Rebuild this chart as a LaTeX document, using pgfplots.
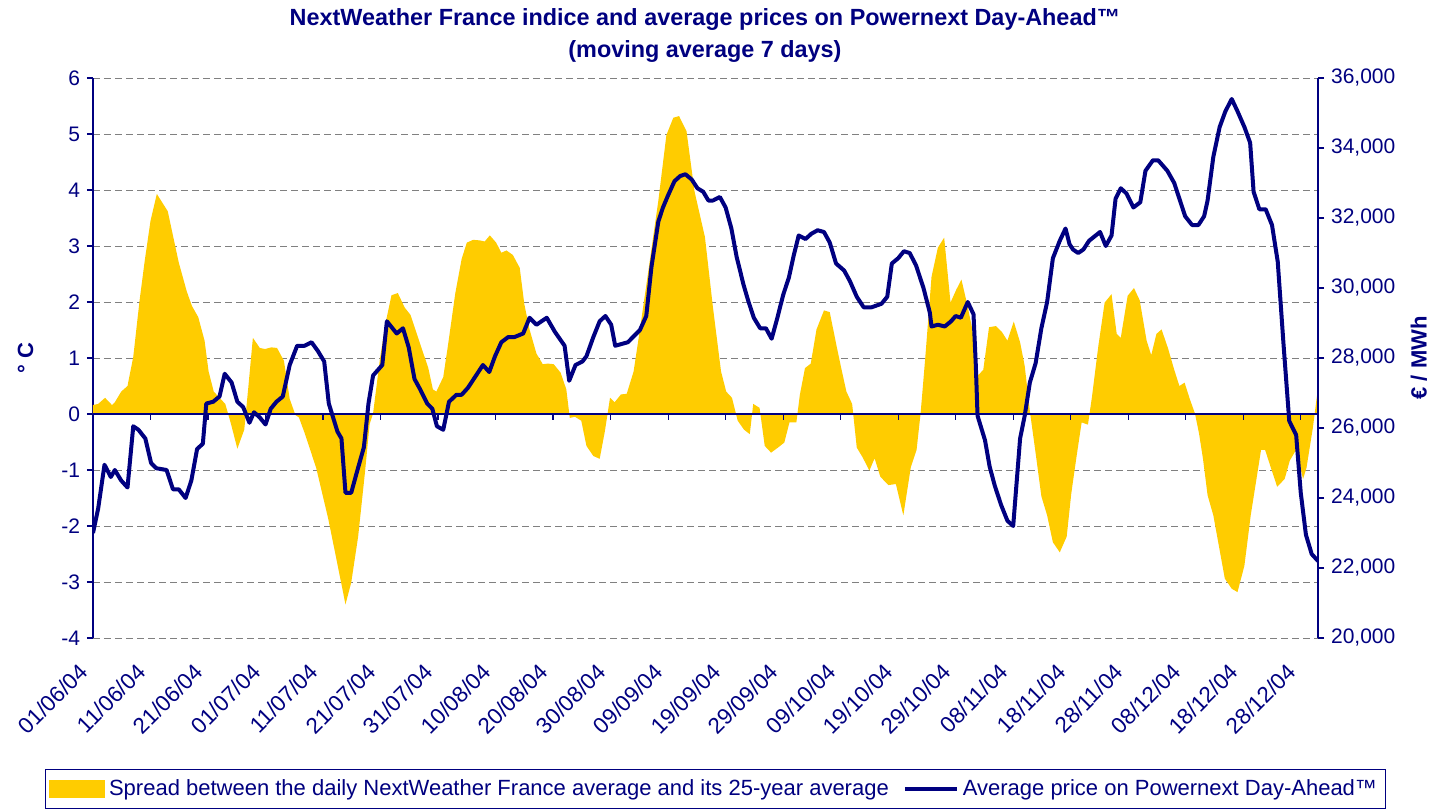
\documentclass[border=0pt]{standalone}
\usepackage{fontspec}
\setmainfont{Liberation Sans}
\usepackage{pgfplots}
\pgfplotsset{compat=1.18}

\definecolor{navyc}{RGB}{0,0,128}
\definecolor{goldc}{RGB}{255,204,0}
\definecolor{gridc}{RGB}{128,128,128}

\pgfplotsset{
  common/.style={
    width=612.5pt, height=280pt, scale only axis,
    xmin=0, xmax=213,
    /pgf/number format/assume math mode=true,
    tick align=outside, major tick length=3pt,
    every tick/.style={navyc, line width=0.6pt},
    ticklabel style={font=\fontsize{10.5}{12}\selectfont, text=navyc},
  },
}

\begin{document}
\begin{tikzpicture}

% left axis: temperature spread
\begin{axis}[common,
    at={(0,0)}, anchor=south west,
    ymin=-4, ymax=6, ytick={-4,-3,...,6},
    axis x line*=bottom, axis y line*=left,
    x axis line style={draw=none},
    y axis line style={navyc, line width=0.65pt},
    xtick={0,10,...,210},
    xtick style={draw=none},
    xticklabels={01/06/04,11/06/04,21/06/04,01/07/04,11/07/04,21/07/04,
      31/07/04,10/08/04,20/08/04,30/08/04,09/09/04,19/09/04,29/09/04,
      09/10/04,19/10/04,29/10/04,08/11/04,18/11/04,28/11/04,08/12/04,
      18/12/04,28/12/04},
    xticklabel style={xshift=-7.5pt, yshift=-4.2pt, rotate=45, anchor=north east,
      font=\fontsize{11.2}{13}\selectfont},
    ymajorgrids, grid style={gridc, dash pattern=on 3.5pt off 2pt, line width=0.5pt},
    ylabel={° C}, ylabel style={font=\bfseries\fontsize{11}{13}\selectfont, text=navyc,
      at={(axis description cs:-0.055,0.5)}, anchor=center, rotate=0},
  ]
  \addplot[fill=goldc, draw=none] table[x=d, y=v] {
d v
0 0.16
0.9 0.18
2.1 0.29
3.3 0.16
3.8 0.21
4.9 0.40
6 0.50
7 1.02
8.1 2.03
9 2.74
10 3.45
11.1 3.93
13 3.62
14.9 2.71
16.3 2.19
17.2 1.93
18.3 1.73
19.4 1.31
20.1 0.76
21 0.40
22 0.29
23 0.18
24 -0.18
25.1 -0.62
26.3 -0.28
27 0.47
27.8 1.36
29 1.18
29.9 1.16
31 1.19
32 1.18
33.2 0.95
34.2 0.27
35.2 -0.02
35.8 -0.06
36.8 -0.34
38.8 -0.96
40.9 -1.87
42.3 -2.58
43.2 -3.04
43.9 -3.40
44.9 -3.01
46.1 -2.19
47.3 -1.03
48.1 -0.18
48.7 0.01
49.9 0.99
50.9 1.64
51.9 2.12
53 2.16
54.2 1.90
55.2 1.77
56.8 1.28
58.3 0.82
59.1 0.44
59.7 0.40
60.9 0.66
61.7 1.21
63 2.16
64.1 2.77
65 3.06
66.1 3.11
67.3 3.10
68.1 3.08
69 3.19
70.1 3.06
71 2.88
71.9 2.92
73 2.84
74.2 2.61
75 1.96
75.9 1.51
77.1 1.08
78.2 0.89
79.1 0.90
80.1 0.89
81.3 0.74
82.3 0.44
82.9 -0.07
83.8 -0.05
84.9 -0.12
85.8 -0.57
87 -0.75
88.1 -0.80
89 -0.31
89.9 0.29
90.7 0.21
91.8 0.35
92.8 0.36
94 0.76
95.1 1.51
96.5 2.51
98.3 3.81
99.7 4.98
100.9 5.29
101.9 5.32
103.2 5.05
104.6 3.97
106.4 3.16
107.8 1.90
109.2 0.76
110.1 0.40
111.1 0.29
112.1 -0.12
113.2 -0.28
114.2 -0.36
114.8 0.18
115.9 0.11
116.8 -0.57
117.9 -0.69
119.1 -0.60
120.2 -0.51
121.1 -0.15
122.3 -0.15
122.9 0.34
123.8 0.82
124.8 0.90
125.8 1.51
127.1 1.85
128.1 1.82
129.3 1.21
130.1 0.82
131 0.40
132 0.18
132.8 -0.60
133.8 -0.77
135 -1.01
135.9 -0.79
136.9 -1.12
138.3 -1.27
139.6 -1.25
140.9 -1.81
142.2 -0.95
143.2 -0.64
143.9 0.01
144.7 0.99
145.8 2.45
146.9 2.97
148 3.15
149.1 1.99
150.1 2.22
151 2.40
152 1.96
152.9 1.51
153.9 0.69
154.8 0.79
155.8 1.55
157 1.57
158 1.47
159 1.31
160.1 1.65
161.2 1.28
162 0.86
162.9 0.05
163.9 -0.70
164.9 -1.47
165.9 -1.81
166.9 -2.29
168.1 -2.47
169.3 -2.19
170.1 -1.42
171 -0.77
171.9 -0.15
173 -0.19
173.7 0.31
174.8 1.21
175.9 1.99
177.1 2.14
178 1.43
178.7 1.36
179.9 2.11
181 2.25
182 2.03
183.2 1.31
184 1.05
184.9 1.43
185.8 1.51
186.9 1.18
188 0.79
188.9 0.50
189.8 0.56
190.7 0.27
191.6 0.01
192.3 -0.34
193 -0.80
193.8 -1.45
194.8 -1.81
195.7 -2.32
196.8 -2.94
198 -3.12
199 -3.18
200.2 -2.71
201.3 -1.81
203.1 -0.64
203.8 -0.64
204.9 -0.99
205.9 -1.30
207.2 -1.16
208.1 -0.83
209.2 -0.64
210.4 -1.16
211 -0.96
212.1 -0.25
213 0.47
  } \closedcycle;
  % zero line and its ticks
  \draw[navyc, line width=0.65pt] (axis cs:0,0) -- (axis cs:213,0);
  \pgfplotsinvokeforeach{10,20,...,210}{
    \draw[navyc, line width=0.6pt] (axis cs:#1,0) -- ++(0pt,-3pt);
  }
\end{axis}

% right axis: price
\begin{axis}[common,
    at={(0,0)}, anchor=south west,
    ymin=20000, ymax=36000, ytick={20000,22000,...,36000},
    scaled y ticks=false,
    yticklabel style={/pgf/number format/1000 sep={,}},
    axis y line*=right, axis x line=none,
    y axis line style={navyc, line width=0.65pt},
    ylabel={€ / MWh}, ylabel style={font=\bfseries\fontsize{11}{13}\selectfont, text=navyc,
      at={(axis description cs:1.0824,0.5)}, anchor=center, rotate=0},
    legend style={at={(0.5078,-0.2696)}, anchor=center, draw=navyc, line width=0.5pt,
      font=\fontsize{11}{13}\selectfont, text=navyc, legend columns=2,
      inner xsep=2pt, inner ysep=3pt, cells={anchor=west},
      /tikz/every even column/.append style={column sep=5pt}},
  ]
  \addlegendimage{legend image code/.code={\fill[goldc] (0pt,-4.25pt) rectangle (27.5pt,4.25pt);}}
  \addlegendentry{Spread between the daily NextWeather France average and its 25-year average}
  \addplot[navyc, line width=2pt, line join=round,
      legend image code/.code={\draw[navyc, line width=2pt] (0pt,0pt) -- (26pt,0pt);}]
    table[x=d, y=p] {
d p
0 23000
0.9 23700
2 24950
3.1 24600
3.8 24800
4.9 24500
6 24300
7 26050
7.9 25950
9.1 25700
10.1 25000
11 24850
12.8 24800
13.9 24250
14.9 24250
16.1 24000
17.1 24500
18.1 25400
19.1 25550
19.7 26700
20.9 26750
22 26900
22.9 27550
24.1 27300
25.1 26750
26.1 26600
27.2 26150
28 26450
29 26300
30 26100
30.9 26550
31.9 26750
33 26900
34.2 27800
35.5 28350
36.8 28350
38 28450
39.1 28200
40.2 27900
41 26700
42.5 25900
43.2 25700
43.9 24150
44.9 24150
45.9 24750
47.1 25450
47.9 26700
48.7 27500
50.3 27800
51.1 29050
52.8 28700
53.9 28850
54.9 28300
55.9 27400
56.9 27100
58.1 26700
59 26550
59.8 26050
60.9 25950
61.9 26750
63.2 26950
64.1 26950
65.2 27150
66.6 27500
67.8 27800
68.9 27600
69.9 28050
71 28450
72.2 28600
73.3 28600
74.8 28700
75.9 29150
77.1 28950
78.9 29150
80.3 28750
82 28350
82.8 27350
83.9 27800
85.1 27900
85.8 28050
87 28600
88.1 29050
89.1 29200
90.1 28950
90.8 28350
91.9 28400
93 28450
93.9 28600
95.1 28800
96.2 29200
97.1 30600
98.3 31900
99.1 32300
100 32650
101.1 33050
102.1 33200
103 33250
104.1 33100
105.1 32850
106.1 32750
107 32500
107.8 32500
109 32600
110 32300
111 31700
111.9 30900
113.1 30100
113.9 29650
114.9 29150
116 28850
117 28850
118 28550
119 29150
120 29800
121 30300
121.8 30900
122.7 31500
123.9 31400
124.9 31550
126 31650
127.1 31600
128.1 31300
129.2 30700
130.6 30500
131.6 30200
132.8 29750
134 29450
135.4 29450
137.1 29550
138.1 29750
138.9 30700
140 30850
141 31050
142 31000
143.1 30650
144.4 30000
145.5 29300
145.8 28900
146.9 28950
148.1 28900
149.2 29050
150 29200
150.9 29150
152.1 29600
153.1 29250
153.5 27800
153.8 26350
155.1 25650
155.9 24900
156.8 24350
157.9 23800
159 23350
160 23200
161.2 25700
162 26350
162.9 27300
163.9 27850
164.9 28850
165.9 29600
166.9 30850
168.1 31350
169.1 31700
169.8 31250
170.4 31100
171.3 31000
172.2 31100
173.2 31350
175.1 31600
176.1 31200
177.1 31500
177.8 32550
178.7 32850
179.7 32700
180.9 32300
182.1 32450
183 33350
184.3 33650
185.2 33650
186.8 33350
188 33000
188.9 32550
189.9 32050
191.1 31800
192.2 31800
193.2 32050
193.8 32500
194.8 33750
195.9 34600
196.9 35050
198 35400
199 35050
200.2 34600
201.2 34150
201.8 32750
202.8 32250
203.9 32250
205 31800
206 30750
207 28400
208 26200
209.2 25800
210 24150
210.9 22950
211.9 22400
213 22200
  };
  \addlegendentry{Average price on Powernext Day-Ahead™}
\end{axis}

% title
\node[anchor=base, font=\bfseries\fontsize{11.7}{13}\selectfont, text=navyc]
  at (306pt,306.25pt) {NextWeather France indice and average prices on Powernext Day-Ahead™};
\node[anchor=base, font=\bfseries\fontsize{11.7}{13}\selectfont, text=navyc]
  at (306pt,290.25pt) {(moving average 7 days)};

\pgfresetboundingbox
\path[use as bounding box] (-46.5pt,-86pt) rectangle (668pt,319pt);
\end{tikzpicture}
\end{document}
